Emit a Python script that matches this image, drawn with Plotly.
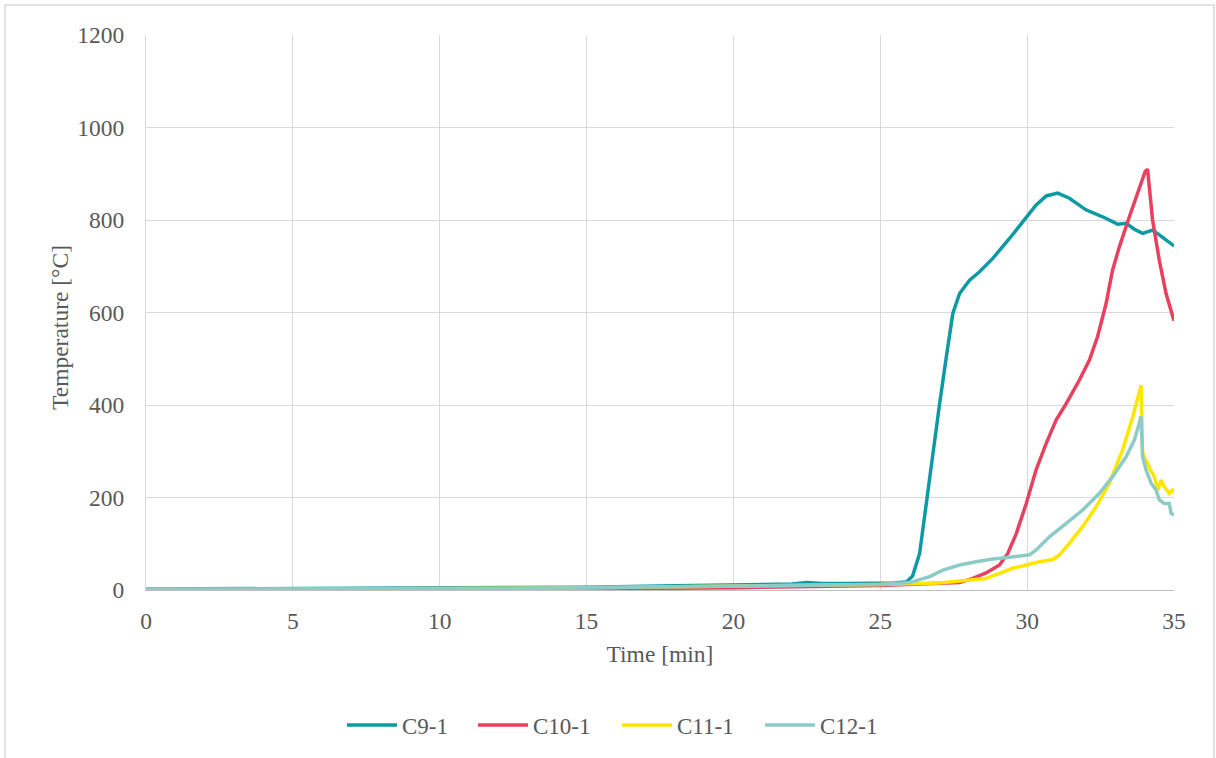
import plotly.graph_objects as go

# ---- data ----
t_c9 = [0, 5, 10, 15, 18, 20, 22, 22.5, 23, 24, 25, 25.5, 25.9, 26.1, 26.34, 26.56, 26.79, 27.02, 27.25,
        27.47, 27.7, 28.04, 28.38, 28.83, 29.4, 29.97, 30.3, 30.65, 31.04, 31.44, 32.0, 32.57, 33.08,
        33.37, 33.65, 33.93, 34.27, 34.5, 35]
T_c9 = [2, 3, 4, 6, 9, 11, 13, 16, 14, 14, 15, 15, 18, 30, 79, 187, 295, 403, 505,
        598, 641, 670, 688, 717, 760, 804, 832, 852, 858, 847, 822, 807, 791,
        793, 780, 771, 778, 768, 744]

t_c10 = [0, 5, 10, 15, 20, 25, 27, 27.7, 28.15, 28.6, 29.06, 29.34, 29.63, 29.97, 30.3, 30.65, 30.99,
         31.33, 31.78, 32.12, 32.4, 32.69, 32.91, 33.14, 33.48, 33.82, 34.02, 34.1, 34.27, 34.5, 34.73, 35]
T_c10 = [0, 0, 1, 2, 5, 10, 14, 16, 25, 37, 54, 79, 122, 187, 259, 317, 368,
         403, 454, 497, 548, 620, 692, 742, 807, 872, 905, 910, 800, 713, 641, 582]

t_c11 = [0, 5, 10, 15, 20, 25, 27, 28.26, 28.6, 29.06, 29.5, 29.97, 30.42, 30.87, 31.1, 31.44, 31.89,
         32.35, 32.8, 33.25, 33.6, 33.88, 33.93, 34.0, 34.1, 34.2, 34.33, 34.45, 34.56, 34.67, 34.84,
         34.95, 35]
T_c11 = [0, 1, 3, 5, 8, 12, 15, 22, 25, 36, 47, 54, 61, 66, 76, 101, 137,
         180, 231, 303, 375, 443, 300, 285, 274, 259, 245, 216, 238, 223, 209,
         216, 212]

t_c12 = [0, 5, 10, 15, 20, 25, 26, 26.34, 26.68, 27.13, 27.7, 28.26, 28.83, 29.4, 30.08, 30.3, 30.76,
         31.33, 31.89, 32.46, 32.91, 33.37, 33.65, 33.88, 33.93, 34.05, 34.22, 34.39, 34.5, 34.67,
         34.84, 34.9, 35]
T_c12 = [2, 2, 3, 5, 8, 12, 16, 22, 29, 43, 54, 61, 67, 71, 76, 86, 115,
         144, 173, 209, 245, 288, 324, 375, 288, 259, 231, 216, 195, 187,
         187, 166, 162]

series_names = ["C9-1", "C10-1", "C11-1", "C12-1"]
series_t = [t_c9, t_c10, t_c11, t_c12]
series_T = [T_c9, T_c10, T_c11, T_c12]
colors = ["#0E9AA5", "#E8405F", "#FFE500", "#8DCBC7"]

x_ticks = [0, 5, 10, 15, 20, 25, 30, 35]
y_ticks = [0, 200, 400, 600, 800, 1000, 1200]
x_title = "Time [min]"
y_title = "Temperature [°C]"

FONT = "Liberation Serif"
GREY = "#595959"
W, H = 1216, 758
PL, PR, PT, PB = 146, 1174, 35, 590  # plot area edges in px

# left edge (px) of each legend entry's line
legend_x_px = [347, 478, 622, 765]
legend_ids = ["legend", "legend2", "legend3", "legend4"]

fig = go.Figure()
for name, tx, ty, c, lid in zip(series_names, series_t, series_T, colors, legend_ids):
    fig.add_trace(go.Scatter(x=tx, y=ty, name=name, mode="lines", legend=lid,
                             line=dict(color=c, width=3.5)))

layout_legends = {}
for lid, px in zip(legend_ids, legend_x_px):
    layout_legends[lid] = dict(orientation="h", xref="container", yref="container",
                               x=(px - 5) / W, xanchor="left", y=1 - 725 / H, yanchor="middle",
                               font=dict(family=FONT, size=23, color=GREY), itemwidth=50,
                               bgcolor="rgba(0,0,0,0)")

fig.update_layout(
    width=W, height=H,
    margin=dict(l=PL, r=W - PR, t=PT, b=H - PB),
    paper_bgcolor="white", plot_bgcolor="white",
    font=dict(family=FONT, size=23, color=GREY),
    showlegend=True,
    **layout_legends,
)
fig.update_xaxes(range=[0, 35], tickvals=x_ticks, showgrid=True, gridcolor="#D9D9D9",
                 gridwidth=1.3, zeroline=False, showline=True, linecolor="#BFBFBF", linewidth=1.3,
                 ticks="", ticklabelstandoff=10,
                 tickfont=dict(family=FONT, size=23.5, color=GREY),
                 title=dict(text=x_title, font=dict(family=FONT, size=23.5, color=GREY), standoff=12))
fig.update_yaxes(range=[0, 1200], tickvals=y_ticks, showgrid=True, gridcolor="#D9D9D9",
                 gridwidth=1.3, zeroline=False, showline=True, linecolor="#D9D9D9", linewidth=1.3,
                 ticks="", ticklabelstandoff=16,
                 tickfont=dict(family=FONT, size=23.5, color=GREY))

# y-axis title as annotation (placed like the reference)
fig.add_annotation(text=y_title, textangle=-90, showarrow=False,
                   xref="paper", yref="paper",
                   x=(60 - PL) / (PR - PL), y=(PB - 328) / (PB - PT),
                   xanchor="center", yanchor="middle",
                   font=dict(family=FONT, size=23.5, color=GREY))

# outer chart-area border
fig.add_shape(type="rect", xref="paper", yref="paper",
              x0=(5 - PL) / (PR - PL), x1=(1214 - PL) / (PR - PL),
              y0=(PB - 762) / (PB - PT), y1=(PB - 5) / (PB - PT),
              line=dict(color="#D9D9D9", width=1.5), fillcolor="rgba(0,0,0,0)", layer="below")

fig.write_html("out.html")
